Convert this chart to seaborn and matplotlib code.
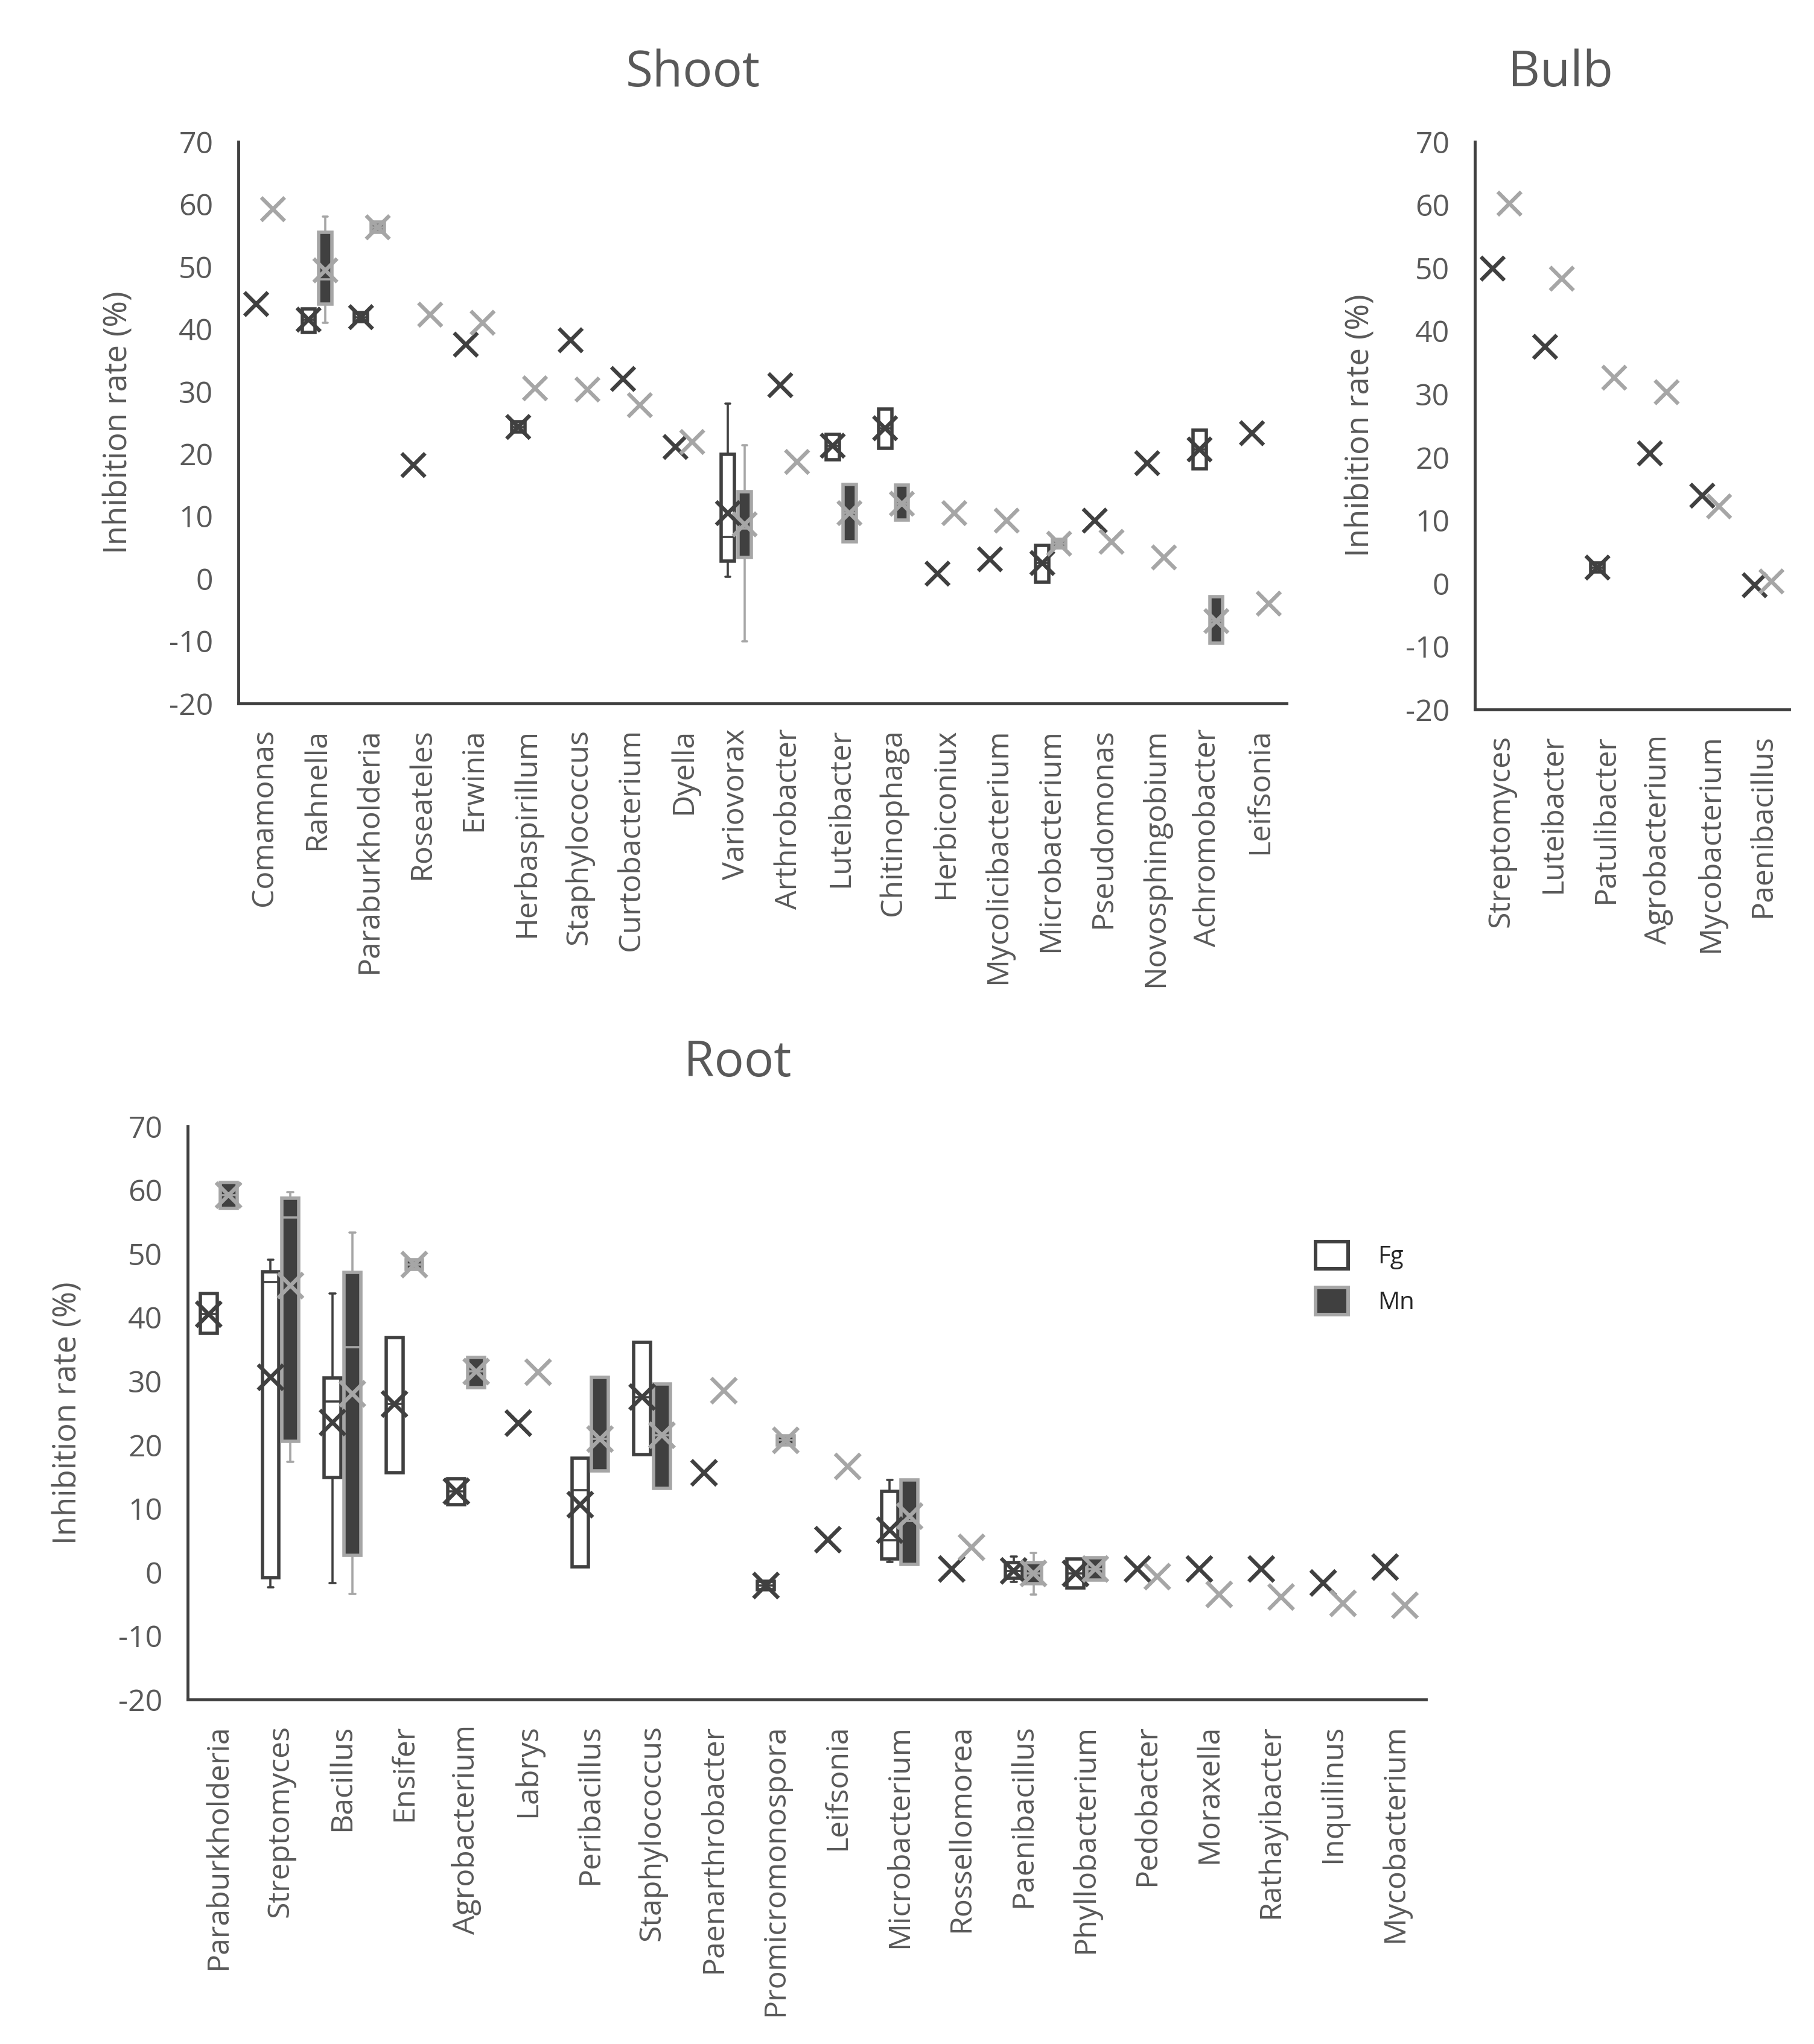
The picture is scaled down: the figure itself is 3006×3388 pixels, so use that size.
import matplotlib
matplotlib.use("Agg")
import matplotlib.pyplot as plt
import seaborn as sns
import pandas as pd
from matplotlib.patches import Patch

# ---------------- data ----------------
shoot_names = ["Comamonas", "Rahnella", "Paraburkholderia", "Roseateles", "Erwinia",
               "Herbaspirillum", "Staphylococcus", "Curtobacterium", "Dyella", "Variovorax",
               "Arthrobacter", "Luteibacter", "Chitinophaga", "Herbiconiux", "Mycolicibacterium",
               "Microbacterium", "Pseudomonas", "Novosphingobium", "Achromobacter", "Leifsonia"]
shoot_fg_mean = [44.0, 41.5, 41.9, 18.2, 37.5, 24.3, 38.2, 32.0, 21.1, 10.5,
                 31.0, 21.3, 24.1, 0.8, 3.1, 2.5, 9.3, 18.5, 20.7, 23.3]
shoot_mn_mean = [59.2, 49.4, 56.3, 42.3, 41.0, 30.5, 30.3, 27.8, 21.9, 8.7,
                 18.7, 10.5, 12.0, 10.5, 9.3, 5.6, 5.9, 3.4, -6.8, -4.0]
# (whisker low, Q1, median, Q3, whisker high)
shoot_fg_box = {"Rahnella": (39.5, 39.5, 41.5, 43.2, 43.2),
                "Paraburkholderia": (41.2, 41.2, 41.9, 42.6, 42.6),
                "Herbaspirillum": (23.5, 23.5, 24.3, 25.1, 25.1),
                "Variovorax": (0.3, 2.8, 6.7, 19.9, 28.0),
                "Luteibacter": (19.1, 19.1, 21.3, 23.1, 23.1),
                "Chitinophaga": (20.9, 20.9, 24.1, 27.2, 27.2),
                "Microbacterium": (-0.6, -0.6, 2.5, 5.3, 5.3),
                "Achromobacter": (17.6, 17.6, 20.7, 23.8, 23.8)}
shoot_mn_box = {"Rahnella": (41.0, 44.0, 48.0, 55.5, 58.0),
                "Paraburkholderia": (55.5, 55.5, 56.3, 57.1, 57.1),
                "Variovorax": (-10.0, 3.4, 8.0, 13.9, 21.4),
                "Luteibacter": (5.9, 5.9, 10.5, 15.1, 15.1),
                "Chitinophaga": (9.4, 9.4, 12.0, 15.0, 15.0),
                "Microbacterium": (4.9, 4.9, 5.6, 6.3, 6.3),
                "Achromobacter": (-10.3, -10.3, -6.8, -2.9, -2.9)}

bulb_names = ["Streptomyces", "Luteibacter", "Patulibacter", "Agrobacterium",
              "Mycobacterium", "Paenibacillus"]
bulb_fg_mean = [49.9, 37.5, 2.5, 20.6, 13.9, -0.3]
bulb_mn_mean = [60.2, 48.3, 32.6, 30.3, 12.2, 0.3]
bulb_fg_box = {"Patulibacter": (1.8, 1.8, 2.5, 3.2, 3.2)}
bulb_mn_box = {}

root_names = ["Paraburkholderia", "Streptomyces", "Bacillus", "Ensifer", "Agrobacterium",
              "Labrys", "Peribacillus", "Staphylococcus", "Paenarthrobacter", "Promicromonospora",
              "Leifsonia", "Microbacterium", "Rossellomorea", "Paenibacillus", "Phyllobacterium",
              "Pedobacter", "Moraxella", "Rathayibacter", "Inquilinus", "Mycobacterium"]
root_fg_mean = [40.5, 30.6, 23.5, 26.4, 12.7, 23.4, 10.6, 27.5, 15.6, -2.1,
                5.1, 6.6, 0.5, 0.2, -0.2, 0.5, 0.5, 0.5, -1.7, 0.8]
root_mn_mean = [59.2, 45.0, 28.0, 48.3, 31.5, 31.4, 20.9, 21.5, 28.5, 20.7,
                16.6, 8.8, 3.9, -0.2, 0.5, -0.7, -3.5, -3.9, -4.9, -5.2]
root_fg_box = {"Paraburkholderia": (37.5, 37.5, 40.5, 43.8, 43.8),
               "Streptomyces": (-2.4, -0.9, 45.6, 47.2, 49.1),
               "Bacillus": (-1.7, 14.9, 26.8, 30.5, 43.8),
               "Ensifer": (15.6, 15.6, 26.4, 36.8, 36.8),
               "Agrobacterium": (10.6, 10.6, 12.7, 14.7, 14.7),
               "Peribacillus": (0.8, 0.8, 12.9, 17.9, 17.9),
               "Staphylococcus": (18.5, 18.5, 27.5, 36.1, 36.1),
               "Promicromonospora": (-2.8, -2.8, -2.1, -1.4, -1.4),
               "Microbacterium": (1.6, 2.1, 5.0, 12.7, 14.5),
               "Paenibacillus": (-1.5, -1.0, 0.2, 1.5, 2.5),
               "Phyllobacterium": (-2.5, -2.5, -0.2, 2.1, 2.1)}
root_mn_box = {"Paraburkholderia": (57.1, 57.1, 59.2, 61.2, 61.2),
               "Streptomyces": (17.3, 20.5, 55.7, 58.7, 59.7),
               "Bacillus": (-3.4, 2.6, 35.3, 47.1, 53.3),
               "Ensifer": (47.5, 47.5, 48.3, 49.1, 49.1),
               "Agrobacterium": (29.0, 29.0, 31.5, 33.7, 33.7),
               "Peribacillus": (15.9, 15.9, 20.9, 30.6, 30.6),
               "Staphylococcus": (13.2, 13.2, 21.5, 29.5, 29.5),
               "Promicromonospora": (20.0, 20.0, 20.7, 21.4, 21.4),
               "Microbacterium": (1.2, 1.2, 8.0, 14.5, 14.5),
               "Paenibacillus": (-3.5, -1.8, -0.2, 1.5, 3.0),
               "Phyllobacterium": (-1.2, -1.2, 0.5, 2.3, 2.3)}

y_ticks = [-20, -10, 0, 10, 20, 30, 40, 50, 60, 70]
series_labels = ["Fg", "Mn"]

# ---------------- style ----------------
sns.set_theme(style="white")
plt.rcParams['font.family'] = ['Open Sans', 'DejaVu Sans']

FG_C = '#404040'
MN_C = '#A6A6A6'
TXT = '#595959'

W, H = 3006, 3388
fig = plt.figure(figsize=(W / 100, H / 100), dpi=100)


def px_axes(l, t, r, b):
    return fig.add_axes([l / W, 1 - b / H, (r - l) / W, (b - t) / H])


def draw_panel(ax, names, fg_mean, mn_mean, fg_box, mn_box, bw, off, ms):
    n = len(names)
    specs = [(fg_box, -1, 'white', FG_C), (mn_box, 1, FG_C, MN_C)]
    for boxes, sign, face, edge in specs:
        stats, pos = [], []
        for name, (lo, q1, med, q3, hi) in boxes.items():
            stats.append(dict(whislo=lo, q1=q1, med=med, q3=q3, whishi=hi, fliers=[]))
            pos.append(names.index(name) + sign * off)
        if stats:
            ax.bxp(stats, positions=pos, widths=bw, patch_artist=True, showfliers=False,
                   capwidths=bw * 0.35,
                   boxprops=dict(facecolor=face, edgecolor=edge, linewidth=4.0),
                   whiskerprops=dict(color=edge, linewidth=2.6, solid_capstyle='butt'),
                   capprops=dict(color=edge, linewidth=2.6),
                   medianprops=dict(color=edge, linewidth=2.6),
                   manage_ticks=False, zorder=2)
    idx = list(range(n))
    df = pd.DataFrame({
        "pos": [i - off for i in idx] + [i + off for i in idx],
        "val": list(fg_mean) + list(mn_mean),
        "series": [series_labels[0]] * n + [series_labels[1]] * n,
    })
    sns.scatterplot(data=df, x="pos", y="val", hue="series",
                    palette={"Fg": FG_C, "Mn": MN_C}, marker="x", s=ms ** 2,
                    linewidth=4.6, legend=False, ax=ax, zorder=3)
    ax.set_xlim(-0.5, n - 0.5)
    ax.set_ylim(-20, 70)
    ax.set_yticks(y_ticks)
    ax.set_yticklabels([str(v) for v in y_ticks])
    ax.set_xticks(idx)
    ax.set_xticklabels(names, rotation=90)
    ax.set_xlabel("")
    ax.set_ylabel("")
    for s in ["top", "right"]:
        ax.spines[s].set_visible(False)
    for s in ["left", "bottom"]:
        ax.spines[s].set_color(FG_C)
        ax.spines[s].set_linewidth(3.5)
    ax.tick_params(axis='both', length=0, labelsize=36, labelcolor=TXT, pad=30)
    ax.set_facecolor('white')


ax_s = px_axes(395, 235, 2132, 1166)
draw_panel(ax_s, shoot_names, shoot_fg_mean, shoot_mn_mean, shoot_fg_box, shoot_mn_box,
           bw=0.25, off=0.16, ms=28)
ax_b = px_axes(2444, 235, 2965, 1176)
draw_panel(ax_b, bulb_names, bulb_fg_mean, bulb_mn_mean, bulb_fg_box, bulb_mn_box,
           bw=0.25, off=0.16, ms=28)
ax_r = px_axes(311, 1867, 2363, 2817)
draw_panel(ax_r, root_names, root_fg_mean, root_mn_mean, root_fg_box, root_mn_box,
           bw=0.27, off=0.16, ms=30)

# titles
fig.text(1148 / W, 1 - 143 / H, "Shoot", ha='center', va='baseline', fontsize=59, color=TXT)
fig.text(2586 / W, 1 - 143 / H, "Bulb", ha='center', va='baseline', fontsize=59, color=TXT)
fig.text(1222 / W, 1 - 1784 / H, "Root", ha='center', va='baseline', fontsize=59, color=TXT)

# y labels
ylab = "Inhibition rate (%)"
fig.text(197 / W, 1 - 700 / H, ylab, rotation=90, ha='center', va='center', fontsize=38, color=TXT)
fig.text(2255 / W, 1 - 705 / H, ylab, rotation=90, ha='center', va='center', fontsize=38, color=TXT)
fig.text(113 / W, 1 - 2342 / H, ylab, rotation=90, ha='center', va='center', fontsize=38, color=TXT)

# legend
handles = [Patch(facecolor='white', edgecolor=FG_C, linewidth=4.3, label=series_labels[0]),
           Patch(facecolor=FG_C, edgecolor=MN_C, linewidth=4.3, label=series_labels[1])]
leg = fig.legend(handles=handles, loc='upper left', bbox_to_anchor=(2180 / W, 1 - 2058 / H),
                 frameon=False, fontsize=29, handlelength=1.35, handleheight=1.35,
                 handletextpad=1.2, labelspacing=0.75, borderpad=0, borderaxespad=0)
for t in leg.get_texts():
    t.set_color('#262626')

fig.savefig("out.png", dpi=100, facecolor='white')
